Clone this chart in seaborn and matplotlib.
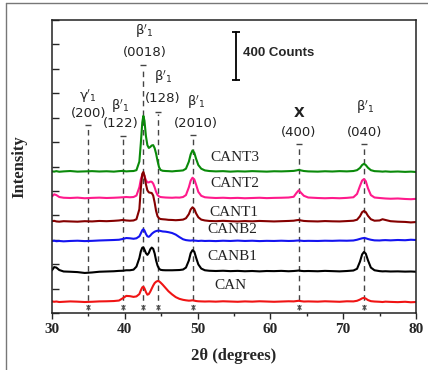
import numpy as np
import pandas as pd
import matplotlib
matplotlib.use("Agg")
import matplotlib.pyplot as plt
import seaborn as sns
from matplotlib.lines import Line2D

# ---------------- data ----------------
two_theta = [30.0, 30.3, 30.6, 31.0, 31.6, 32.5, 33.5, 34.5, 35.5, 36.5,
             37.5, 38.5, 39.2, 39.7, 40.2, 40.7, 41.2, 41.6, 42.0, 42.2,
             42.4, 42.55, 42.7, 42.9, 43.1, 43.3, 43.5, 43.7, 43.9, 44.1,
             44.3, 44.5, 44.7, 44.9, 45.2, 45.6, 46.0, 46.5, 47.0, 47.5,
             48.0, 48.4, 48.8, 49.05, 49.3, 49.55, 49.8, 50.1, 50.5, 51.0,
             51.6, 52.5, 53.5, 54.5, 55.5, 56.5, 57.5, 58.5, 59.5, 60.5,
             61.5, 62.5, 63.2, 63.6, 63.9, 64.2, 64.6, 65.2, 66.5, 67.5,
             68.5, 69.5, 70.5, 71.4, 71.9, 72.3, 72.6, 72.85, 73.1, 73.4,
             73.8, 74.3, 75.0, 75.4, 75.8, 76.5, 77.5, 78.5, 79.3, 80.0]

can = [95, 92, 94, 90, 92, 95, 93, 90, 92, 95,
       96, 98, 102, 120, 140, 138, 132, 136, 155, 185,
       210, 215, 202, 172, 150, 155, 175, 200, 225, 245,
       256, 262, 260, 250, 232, 205, 178, 152, 130, 116,
       108, 104, 101, 102, 104, 101, 98, 96, 95, 94,
       95, 93, 96, 94, 92, 95, 93, 96, 94, 92,
       94, 96, 95, 98, 100, 97, 94, 95, 93, 96,
       94, 92, 96, 95, 100, 110, 120, 124, 118, 106,
       97, 94, 92, 90, 93, 91, 89, 92, 88, 90]

canb1 = [350, 376, 372, 352, 340, 338, 335, 328, 332, 338,
         340, 342, 345, 346, 350, 350, 355, 380, 450, 505,
         535, 538, 520, 490, 476, 492, 522, 536, 526, 488,
         430, 388, 364, 354, 351, 350, 350, 350, 351, 352,
         356, 372, 430, 490, 515, 502, 452, 398, 364, 350,
         346, 344, 346, 343, 345, 342, 344, 341, 344, 343,
         345, 342, 344, 346, 348, 345, 343, 344, 342, 345,
         343, 341, 344, 348, 362, 420, 480, 500, 486, 432,
         372, 350, 343, 341, 342, 340, 341, 339, 340, 338]

canb2 = [590, 592, 588, 590, 587, 590, 592, 589, 591, 594,
         596, 598, 600, 606, 614, 612, 608, 612, 628, 652,
         678, 686, 676, 648, 628, 624, 634, 648, 658, 666,
         671, 674, 675, 672, 668, 666, 662, 655, 642, 622,
         604, 597, 594, 593, 595, 593, 592, 590, 592, 590,
         591, 589, 592, 590, 593, 590, 592, 589, 591, 590,
         592, 590, 591, 593, 594, 592, 590, 591, 590, 592,
         591, 593, 592, 594, 600, 607, 612, 614, 612, 606,
         600, 595, 594, 596, 597, 595, 598, 596, 600, 598]

cant1 = [752, 755, 750, 748, 752, 750, 748, 752, 750, 754,
         752, 755, 758, 762, 758, 756, 758, 768, 850, 1020,
         1140, 1155, 1125, 1055, 1005, 988, 985, 983, 962, 905,
         835, 792, 776, 770, 768, 766, 763, 762, 760, 762,
         765, 776, 810, 848, 866, 852, 815, 784, 765, 758,
         754, 752, 755, 752, 750, 753, 751, 754, 752, 750,
         752, 754, 756, 760, 762, 758, 754, 752, 750, 753,
         751, 750, 753, 756, 764, 792, 826, 836, 826, 796,
         768, 756, 758, 768, 762, 752, 748, 746, 742, 745]

cant2 = [955, 972, 966, 950, 944, 942, 945, 940, 943, 945,
         942, 944, 946, 948, 950, 948, 950, 962, 1030, 1095,
         1132, 1140, 1122, 1088, 1070, 1070, 1076, 1075, 1060, 1030,
         992, 966, 955, 950, 948, 946, 945, 944, 946, 945,
         950, 966, 1030, 1084, 1108, 1094, 1050, 992, 960, 948,
         945, 942, 944, 941, 943, 940, 942, 944, 941, 943,
         944, 946, 952, 985, 1005, 985, 960, 946, 942, 940,
         942, 940, 943, 948, 975, 1040, 1085, 1097, 1080, 1022,
         966, 946, 942, 940, 938, 936, 938, 934, 932, 935]

cant3 = [1160, 1158, 1162, 1157, 1160, 1163, 1158, 1160, 1162, 1159,
         1161, 1158, 1162, 1164, 1160, 1162, 1163, 1170, 1240, 1390,
         1560, 1615, 1575, 1450, 1375, 1352, 1360, 1372, 1375, 1350,
         1305, 1245, 1195, 1172, 1165, 1163, 1162, 1160, 1163, 1165,
         1168, 1182, 1240, 1300, 1332, 1312, 1262, 1212, 1182, 1168,
         1163, 1160, 1162, 1158, 1161, 1159, 1162, 1160, 1158, 1161,
         1160, 1162, 1164, 1168, 1172, 1168, 1163, 1160, 1158, 1161,
         1159, 1162, 1160, 1163, 1170, 1188, 1212, 1222, 1212, 1190,
         1170, 1162, 1160, 1158, 1160, 1157, 1159, 1156, 1158, 1155]

samples = ["CAN", "CANB1", "CANB2", "CANT3", "CANT2", "CANT1"]
series = {"CAN": can, "CANB1": canb1, "CANB2": canb2,
          "CANT1": cant1, "CANT2": cant2, "CANT3": cant3}

# series label positions (2theta, counts)
label_x = {"CAN": 52.25, "CANB1": 51.3, "CANB2": 51.3,
           "CANT1": 51.6, "CANT2": 51.7, "CANT3": 51.7}
label_y = {"CAN": 229, "CANB1": 460, "CANB2": 680,
           "CANT1": 827, "CANT2": 1060, "CANT3": 1272}

# reflections
peak_pos = [35.0, 39.8, 42.55, 44.6, 49.35, 63.9, 72.85]
peak_top = [1540, 1450, 2030, 1646, 1458, 1384, 1384]
phase = [r"$\mathrm{\gamma}'_1$", r"$\mathrm{\beta}'_1$", r"$\mathrm{\beta}'_1$",
         r"$\mathrm{\beta}'_1$", r"$\mathrm{\beta}'_1$", "X", r"$\mathrm{\beta}'_1$"]
hkl = ["(200)", "(122)", "(0018)", "(128)", "(2010)", "(400)", "(040)"]
lab_x = [35.0, 39.4, 42.7, 45.25, 49.8, 63.9, 73.0]
phase_y = [1775, 1692, 2305, 1930, 1725, 1640, 1684]
hkl_y = [1638, 1556, 2130, 1753, 1556, 1482, 1482]

colors = {"CAN": "#f01414", "CANB1": "#000000", "CANB2": "#1414f0",
          "CANT1": "#850000", "CANT2": "#ff1a8c", "CANT3": "#0a8a0a"}

# ---------------- figure ----------------
sns.set_theme(style="ticks")
plt.rcParams["font.family"] = ["Liberation Serif", "DejaVu Serif"]
plt.rcParams["mathtext.fontset"] = "dejavusans"

fig = plt.figure(figsize=(4.28, 3.70), dpi=100)
ax = fig.add_axes([52 / 428, 57 / 370, 364 / 428, 293 / 370])

rows = []
for s in samples:
    for t, v in zip(two_theta, series[s]):
        rows.append((s, t, v))
df = pd.DataFrame(rows, columns=["sample", "two_theta", "intensity"])

# reflection markers
for xp, yt in zip(peak_pos, peak_top):
    ax.plot([xp, xp], [22, yt - 20], ls=(0, (4, 3)), color="#444444",
            lw=1.0, zorder=1)
    ax.plot([xp], [yt], marker="_", ms=4, mew=1.0, color="#444444", zorder=1)
    ax.plot([xp], [48], marker="x", ms=3.5, mew=0.8, color="#555555", zorder=1)

sns.lineplot(data=df, x="two_theta", y="intensity", hue="sample",
             hue_order=samples, palette=colors, estimator=None, sort=False,
             lw=1.5, legend=False, ax=ax, zorder=2)

for s in samples:
    ax.text(label_x[s], label_y[s], s, fontsize=11, ha="left", va="center",
            color="#222222")

for xl, p, h, py, hy in zip(lab_x, phase, hkl, phase_y, hkl_y):
    if p == "X":
        ax.text(xl, py, p, fontsize=10, fontweight="bold", ha="center",
                va="center", family="DejaVu Sans", color="#222222")
    else:
        ax.text(xl, py, p, fontsize=9.5, ha="center", va="center",
                family="DejaVu Sans", color="#222222")
    ax.text(xl, hy, h, fontsize=9.5, ha="center", va="center",
            family="DejaVu Sans", color="#222222")

# 400 counts scale bar
ax.plot([55.3, 55.3], [1908, 2302], color="black", lw=1.3, zorder=3)
ax.plot([55.3, 55.3], [1908, 2302], ls="none", marker="_", ms=6, mew=1.3,
        color="black", zorder=3)
ax.text(56.3, 2130, "400 Counts", fontsize=9.5, fontweight="bold",
        family="Liberation Sans", ha="left", va="center")

ax.set_xlim(30, 80)
ax.set_ylim(0, 2400)
ax.set_xticks(range(30, 81, 10))
ax.set_xticks(range(35, 80, 10), minor=True)
ax.set_yticks(np.arange(0, 2401, 200))
ax.set_yticklabels([])
ax.tick_params(axis="x", which="major", direction="out", length=4, width=1,
               labelsize=11, pad=3)
ax.tick_params(axis="x", which="minor", direction="out", length=2.5, width=1)
ax.tick_params(axis="y", which="major", direction="in", length=5, width=1)
for lbl in ax.get_xticklabels():
    lbl.set_fontweight("bold")
for sp in ax.spines.values():
    sp.set_visible(True)
    sp.set_linewidth(1.1)
    sp.set_color("#222222")

ax.set_xlabel("2\u03b8 (degrees)", fontsize=12, fontweight="bold", labelpad=9)
ax.set_ylabel("Intensity", fontsize=12, fontweight="bold", labelpad=14)

# outer frame (left and top edges)
fig.add_artist(Line2D([6 / 428, 6 / 428], [0, 1 - 3 / 370],
                      transform=fig.transFigure, color="#777777", lw=1))
fig.add_artist(Line2D([6 / 428, 1], [1 - 3 / 370, 1 - 3 / 370],
                      transform=fig.transFigure, color="#777777", lw=1))

fig.savefig("out.png", dpi=100)
